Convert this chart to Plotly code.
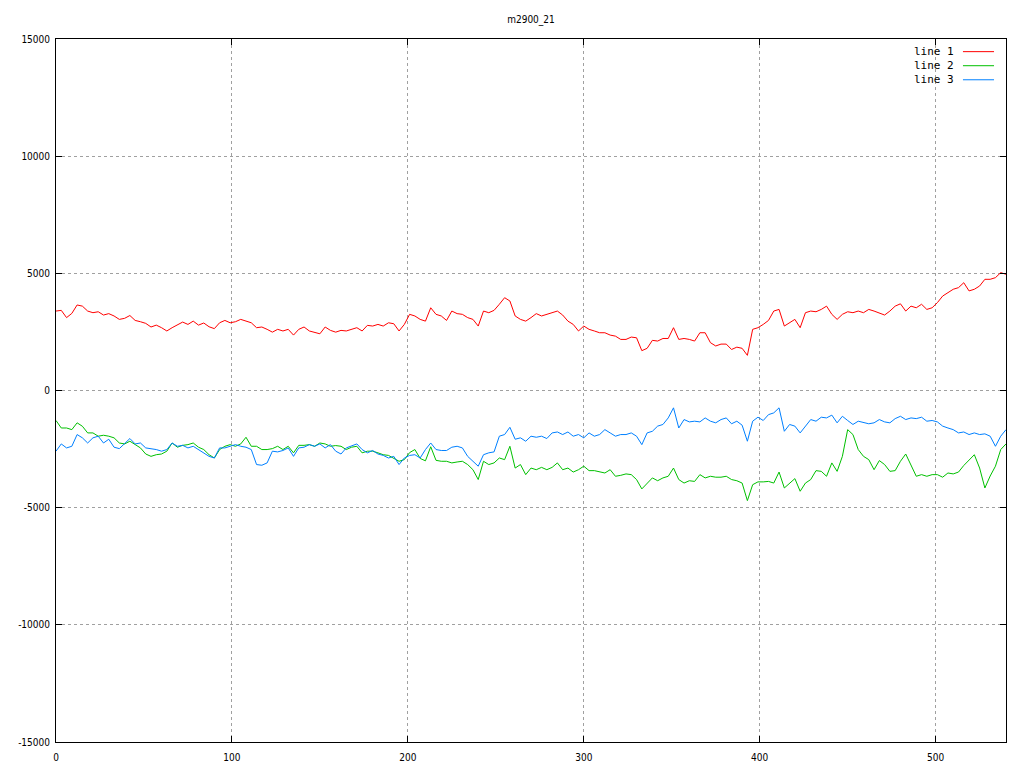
import plotly.graph_objects as go

x_vals = list(range(0, 541, 3))

line1 = [3390, 3420, 3110, 3290, 3650, 3600, 3390, 3320, 3360, 3220, 3280, 3180, 3035, 3080, 3200, 2990, 2935, 2865, 2710, 2790, 2680, 2540, 2680, 2790, 2920, 2820, 2960, 2790, 2880, 2720, 2640, 2890, 2990, 2890, 2935, 3035,
         2960, 2890, 2680, 2710, 2610, 2490, 2610, 2540, 2610, 2365, 2610, 2710, 2540, 2490, 2420, 2710, 2565, 2490, 2565, 2540, 2610, 2680, 2540, 2780, 2750, 2820, 2750, 2890, 2850, 2540, 2820, 3250, 3180, 3035, 2960, 3530,
         3250, 3180, 2990, 3390, 3280, 3250, 3110, 3035, 2750, 3390, 3320, 3420, 3680, 3960, 3820, 3180, 3035, 2960, 3110, 3280, 3180, 3250, 3320, 3390, 3220, 2960, 2820, 2540, 2750, 2610, 2540, 2465, 2465, 2365, 2320, 2180,
         2180, 2280, 2250, 1700, 1800, 2140, 2110, 2220, 2220, 2680, 2180, 2220, 2180, 2110, 2465, 2465, 2040, 1900, 1980, 1980, 1750, 1850, 1800, 1500, 2610, 2680, 2820, 2990, 3390, 3460, 2750, 2890, 3035, 2680, 3320, 3390,
         3360, 3460, 3600, 3250, 3035, 3250, 3360, 3320, 3390, 3320, 3460, 3390, 3320, 3220, 3390, 3600, 3700, 3390, 3600, 3530, 3680, 3460, 3530, 3750, 4030, 4175, 4320, 4390, 4600, 4250, 4320, 4460, 4745, 4745, 4815, 5030, 4960]

line2 = [-1280, -1600, -1600, -1670, -1380, -1525, -1810, -1810, -1950, -1910, -1950, -2020, -2240, -2280, -2165, -2310, -2450, -2710, -2810, -2740, -2710, -2590, -2240, -2420, -2340, -2310, -2240, -2420, -2520, -2740, -2880, -2520, -2380, -2310, -2380, -2280,
         -1995, -2380, -2380, -2520, -2520, -2480, -2380, -2520, -2380, -2660, -2340, -2340, -2310, -2380, -2240, -2280, -2380, -2350, -2380, -2520, -2420, -2380, -2660, -2590, -2590, -2660, -2740, -2770, -2880, -3020, -2950, -2650, -2520, -2900, -3000, -2400,
         -2980, -3020, -3020, -3090, -3050, -3020, -3160, -3380, -3800, -3020, -3160, -3090, -2880, -2950, -2380, -3310, -3160, -3590, -3310, -3380, -3280, -3380, -3280, -3090, -3380, -3310, -3480, -3380, -3230, -3420, -3420, -3480, -3520, -3380, -3660, -3620,
         -3560, -3590, -3800, -4200, -3950, -3730, -3850, -3730, -3660, -3310, -3800, -3950, -3850, -3880, -3590, -3730, -3660, -3700, -3700, -3660, -3800, -3850, -3950, -4700, -4020, -3900, -3900, -3880, -3950, -3480, -4160, -3950, -3760, -4300, -3950, -3800,
         -3420, -3450, -3660, -3090, -3450, -2810, -1670, -1880, -2520, -2810, -2950, -3380, -2990, -3160, -3450, -3420, -3020, -2710, -3160, -3660, -3590, -3660, -3590, -3590, -3700, -3520, -3560, -3480, -3200, -2950, -2740, -3310, -4160, -3650, -3230, -2520, -2280]

line3 = [-2590, -2280, -2450, -2380, -1880, -2020, -2240, -2020, -1950, -2240, -2080, -2420, -2480, -2280, -2050, -2280, -2240, -2450, -2480, -2520, -2590, -2520, -2240, -2380, -2340, -2450, -2380, -2520, -2660, -2810, -2880, -2450, -2450, -2380, -2310, -2380,
         -2420, -2520, -3160, -3190, -3090, -2590, -2620, -2560, -2450, -2810, -2450, -2420, -2310, -2380, -2280, -2450, -2310, -2590, -2710, -2450, -2380, -2280, -2520, -2660, -2560, -2710, -2770, -2880, -2810, -3160, -2880, -2770, -2740, -2880, -2520, -2240,
         -2520, -2560, -2560, -2420, -2380, -2450, -2810, -3020, -3230, -2740, -2660, -2620, -1950, -1880, -1570, -2080, -2020, -2165, -1950, -1995, -1950, -2050, -1810, -1770, -1880, -1770, -1950, -1880, -2020, -1810, -1950, -1880, -1670, -1810, -1950, -1880,
         -1880, -1810, -1950, -2310, -1810, -1740, -1520, -1450, -1170, -740, -1600, -1240, -1340, -1310, -1340, -1170, -1310, -1380, -1240, -1170, -1420, -1310, -1480, -2165, -1310, -1140, -1280, -1030, -955, -740, -1740, -1450, -1520, -1810, -1520, -1240,
         -1310, -1140, -1170, -1050, -1380, -1100, -1280, -1450, -1310, -1380, -1420, -1380, -1240, -1340, -1380, -1200, -1100, -1240, -1170, -1200, -1140, -1310, -1280, -1340, -1520, -1600, -1670, -1810, -1770, -1880, -1810, -1880, -1850, -1950, -2380, -1950, -1670]

series_names = ["line 1", "line 2", "line 3"]
series_colors = ["#ff0000", "#00c000", "#0080ff"]
series_data = [line1, line2, line3]

x_ticks = [0, 100, 200, 300, 400, 500]
x_tick_labels = ["0", "100", "200", "300", "400", "500"]
y_ticks = [-15000, -10000, -5000, 0, 5000, 10000, 15000]
y_tick_labels = ["-15000", "-10000", "-5000", "0", "5000", "10000", "15000"]

fig = go.Figure()
for name, color, ys in zip(series_names, series_colors, series_data):
    fig.add_trace(go.Scatter(x=x_vals, y=ys, mode="lines", name=name,
                             line=dict(color=color, width=1), showlegend=False))

axis_common = dict(
    showgrid=True, gridcolor="#a0a0a0", griddash="dot", gridwidth=1,
    zeroline=False, showline=True, linecolor="black", linewidth=1, mirror="ticks",
    ticks="inside", ticklen=6, tickcolor="black", automargin=False,
    tickfont=dict(family="DejaVu Sans Condensed, DejaVu Sans", size=10, color="black"),
)

fig.update_xaxes(range=[0, 540], tickvals=x_ticks, ticktext=x_tick_labels,
                 ticklabelstandoff=6, **axis_common)
fig.update_yaxes(range=[-15000, 15000], tickvals=y_ticks, ticktext=y_tick_labels,
                 ticklabelstandoff=3, **axis_common)

# gnuplot-style key: text then line sample
key_y = [0.982, 0.962, 0.942]
for name, color, ky in zip(series_names, series_colors, key_y):
    fig.add_annotation(x=0.947, y=ky, xref="paper", yref="paper", text=name,
                       showarrow=False, xanchor="right", yanchor="middle",
                       font=dict(family="DejaVu Sans Mono", size=11, color="black"))
    fig.add_shape(type="line", xref="paper", yref="paper", x0=0.9547, x1=0.9874,
                  y0=ky, y1=ky, line=dict(color=color, width=1))

fig.update_layout(
    width=1010, height=754,
    paper_bgcolor="white", plot_bgcolor="white",
    margin=dict(l=48, r=12, t=31, b=20, autoexpand=False),
    title=dict(text="m2900_21", x=0.5, xref="paper", y=1 - 11 / 754, yref="container",
               xanchor="center", yanchor="middle", automargin=False,
               font=dict(family="DejaVu Sans Condensed, DejaVu Sans", size=10, color="black")),
)

fig.write_html("out.html")
